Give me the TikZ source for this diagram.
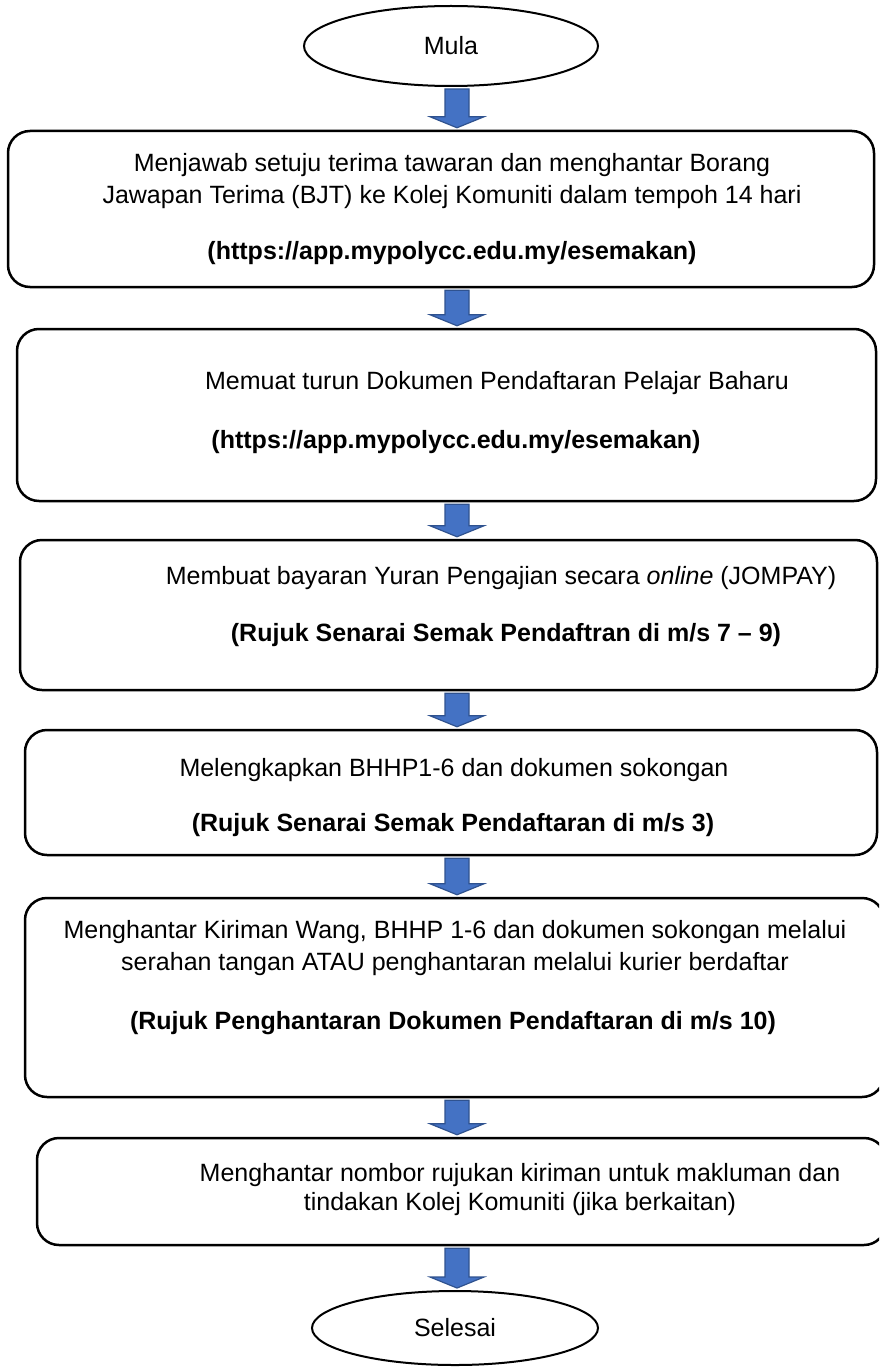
\documentclass[tikz,border=0pt]{standalone}
\usepackage{fontspec}
\setmainfont{Liberation Sans}
\usepackage{tikz}
\usetikzlibrary{shapes.geometric,calc}
\definecolor{arrfill}{RGB}{68,114,196}
\definecolor{arredge}{RGB}{47,82,143}
\newcommand{\flowarrow}[2]{%
  \draw[barr] let \p1=(#1.south), \p2=(#2.north) in
    (445pt,\y1-2pt) -- (469pt,\y1-2pt) -- (469pt,\y2+13pt) -- (484pt,\y2+13pt)
    -- (457pt,\y2+2pt) -- (430pt,\y2+13pt) -- (445pt,\y2+13pt) -- cycle;}
\tikzset{
  term/.style={ellipse, draw, line width=2pt, inner sep=0pt},
  stepbox/.style={draw, line width=2.5pt, rounded corners=22pt, inner sep=0pt},
  txt/.style={inner sep=0pt, align=center},
  btxt/.style={txt, font=\fontsize{25}{32}\selectfont\bfseries},
  barr/.style={fill=arrfill, draw=arredge, line width=1.2pt, line join=miter},
}

\begin{document}
\begin{tikzpicture}[x=1pt, y=-1pt, font=\fontsize{25}{32}\selectfont]
\useasboundingbox (0,0) rectangle (879,1367);
\clip (0,0) rectangle (879,1367);
%---- start
\node[term, minimum width=294pt, minimum height=80pt] (mula) at (451,46) {Mula};
%---- step 1 : accept offer
\node[stepbox, minimum width=866pt, minimum height=156pt] (s1) at (441,209) {};
\node[txt] (s1a) at (452,181) {Menjawab setuju terima tawaran dan menghantar Borang\\Jawapan Terima (BJT) ke Kolej Komuniti dalam tempoh 14 hari};
\node[btxt] (s1b) at (452,253) {(https://app.mypolycc.edu.my/esemakan)};
%---- step 2 : download
\node[stepbox, minimum width=859pt, minimum height=172pt] (s2) at (446.5,415) {};
\node[txt] (s2a) at (497,383) {Memuat turun Dokumen Pendaftaran Pelajar Baharu};
\node[btxt] (s2b) at (456,442) {(https://app.mypolycc.edu.my/esemakan)};
%---- step 3 : payment
\node[stepbox, minimum width=857pt, minimum height=150pt] (s3) at (448.5,615) {};
\node[txt] (s3a) at (501,578) {Membuat bayaran Yuran Pengajian secara \textit{online} (JOMPAY)};
\node[btxt] (s3b) at (506,635) {(Rujuk Senarai Semak Pendaftran di m/s 7 – 9)};
%---- step 4 : forms
\node[stepbox, minimum width=852pt, minimum height=125pt] (s4) at (451,792.5) {};
\node[txt] (s4a) at (454,770) {Melengkapkan BHHP1-6 dan dokumen sokongan};
\node[btxt] (s4b) at (453,825) {(Rujuk Senarai Semak Pendaftaran di m/s 3)};
%---- step 5 : send documents
\node[stepbox, minimum width=859pt, minimum height=199pt] (s5) at (454.5,997.5) {};
\node[txt] (s5a) at (455,948.5) {Menghantar Kiriman Wang, BHHP 1-6 dan dokumen sokongan melalui\\serahan tangan ATAU penghantaran melalui kurier berdaftar};
\node[btxt] (s5b) at (453,1023) {(Rujuk Penghantaran Dokumen Pendaftaran di m/s 10)};
%---- step 6 : reference number
\node[stepbox, minimum width=849pt, minimum height=107pt] (s6) at (461.5,1191.5) {};
\node[txt, font=\fontsize{25}{29}\selectfont] (s6a) at (520,1189.5) {Menghantar nombor rujukan kiriman untuk makluman dan\\tindakan Kolej Komuniti (jika berkaitan)};
%---- end
\node[term, minimum width=286pt, minimum height=74pt] (selesai) at (455,1328) {Selesai};
%---- arrows
\foreach \a/\b in {mula/s1, s1/s2, s2/s3, s3/s4, s4/s5, s5/s6, s6/selesai}
  \flowarrow{\a}{\b};
\end{tikzpicture}
\end{document}
